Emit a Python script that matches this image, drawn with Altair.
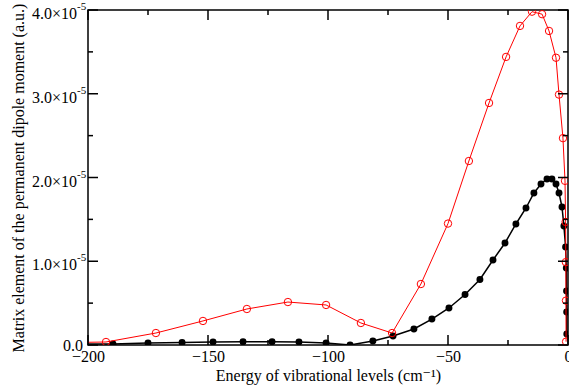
import altair as alt
import pandas as pd

# Red series (open circles): energy (cm^-1), matrix element (a.u.)
red_x = [-215, -192.5, -171.7, -152.1, -133.8, -116.7, -100.8, -86.3, -73.3, -61.3,
         -50.0, -41.3, -32.9, -25.8, -20.0, -15.0, -10.8, -7.9, -5.0, -3.75,
         -2.1, -1.25, -1.0, -0.9, -0.85, -0.8]
red_y = [0.25e-6, 0.36e-6, 1.43e-6, 2.87e-6, 4.30e-6, 5.13e-6, 4.78e-6, 2.63e-6, 1.43e-6, 7.28e-6,
         14.5e-6, 21.97e-6, 28.9e-6, 34.4e-6, 38.1e-6, 39.8e-6, 39.5e-6, 37.5e-6, 34.3e-6, 29.9e-6,
         24.7e-6, 19.6e-6, 14.7e-6, 9.9e-6, 5.3e-6, 0.4e-6]

# Black series (filled circles)
black_x = [-215, -189.6, -175.0, -160.8, -147.9, -135.4, -123.3, -112.1, -100.8, -90.8,
           -81.3, -72.9, -64.2, -56.7, -49.6, -42.9, -36.7, -31.25, -26.25, -21.7,
           -17.5, -14.2, -11.25, -8.75, -6.7, -5.0, -3.75, -2.5, -1.7, -1.0,
           -0.7, -0.6, -0.55, -0.5]
black_y = [0.1e-6, 0.12e-6, 0.24e-6, 0.30e-6, 0.36e-6, 0.39e-6, 0.39e-6, 0.36e-6, 0.24e-6, 0.0,
           0.48e-6, 1.07e-6, 1.91e-6, 3.10e-6, 4.42e-6, 6.03e-6, 7.82e-6, 10.15e-6, 12.18e-6, 14.45e-6,
           16.36e-6, 18.15e-6, 19.22e-6, 19.82e-6, 19.82e-6, 19.22e-6, 18.15e-6, 16.48e-6, 14.2e-6, 11.7e-6,
           9.19e-6, 6.45e-6, 3.94e-6, 1.31e-6]

x_major = [-200, -150, -100, -50, 0]
x_minor = [-175, -125, -75, -25]
y_major = [0, 1e-5, 2e-5, 3e-5, 4e-5]
y_minor = [0.5e-5, 1.5e-5, 2.5e-5, 3.5e-5]
y_sci_vals = [1e-5, 2e-5, 3e-5, 4e-5]
y_label_base = ["1.0×10", "2.0×10", "3.0×10", "4.0×10"]
y_label_exp = ["-5", "-5", "-5", "-5"]
y_zero_val = [0]
y_zero_label = ["0.0"]

W, H = 480, 335
FONT = "Liberation Serif, Times New Roman, DejaVu Serif, serif"

xscale = alt.Scale(domain=[-200, 0], nice=False, zero=False)
yscale = alt.Scale(domain=[0, 4e-5], nice=False, zero=False)

red = pd.DataFrame({"x": red_x, "y": red_y})
black = pd.DataFrame({"x": black_x, "y": black_y})
ylab = pd.DataFrame({"y": y_sci_vals, "base": y_label_base, "exp": y_label_exp})
yzero = pd.DataFrame({"y": y_zero_val, "lab": y_zero_label})

xaxis = alt.Axis(values=x_major, title="Energy of vibrational levels (cm⁻¹)", ticks=False,
                 domain=False, grid=False, labelFont=FONT, labelFontSize=16, labelColor="black",
                 labelPadding=3, titleFont=FONT, titleFontSize=16, titleFontWeight="normal",
                 titleColor="black", titlePadding=3, labelFlush=False, format="d")
yaxis = alt.Axis(values=y_major, title="Matrix element of the permanent dipole moment (a.u.)",
                 ticks=False, domain=False, grid=False, labels=False,
                 titleFont=FONT, titleFontSize=16,
                 titleFontWeight="normal", titleColor="black", titlePadding=62)

X = alt.X("x:Q", scale=xscale, axis=xaxis)
Y = alt.Y("y:Q", scale=yscale, axis=yaxis)

black_line = alt.Chart(black).mark_line(color="black", strokeWidth=1.5, clip=True).encode(x=X, y=Y)
black_pts = alt.Chart(black).mark_point(filled=True, color="black", size=48, opacity=1, clip=True).encode(x=X, y=Y)
red_line = alt.Chart(red).mark_line(color="#ff0000", strokeWidth=1, clip=True).encode(x=X, y=Y)
red_pts = alt.Chart(red).mark_point(filled=False, color="#ff0000", size=55, strokeWidth=1, opacity=1, clip=True).encode(x=X, y=Y)

ylab_base = alt.Chart(ylab).mark_text(font=FONT, fontSize=16, color="black", align="right",
                                      baseline="middle", dy=4).encode(
    y=Y, x=alt.value(-11), text="base:N")
ylab_exp = alt.Chart(ylab).mark_text(font=FONT, fontSize=11, color="black", align="left",
                                     baseline="middle", dy=-3).encode(
    y=Y, x=alt.value(-11), text="exp:N")
ylab_zero = alt.Chart(yzero).mark_text(font=FONT, fontSize=16, color="black", align="right",
                                       baseline="middle", dy=1).encode(
    y=Y, x=alt.value(-5), text="lab:N")

def xticks(vals, length):
    d = pd.DataFrame({"x": vals})
    base = alt.Chart(d)
    bot = base.mark_rule(color="black", strokeWidth=1.5).encode(
        x=X, y=alt.value(H), y2=alt.value(H - length))
    top = base.mark_rule(color="black", strokeWidth=1.5).encode(
        x=X, y=alt.value(0), y2=alt.value(length))
    return [bot, top]

def yticks(vals, length):
    d = pd.DataFrame({"y": vals})
    base = alt.Chart(d)
    left = base.mark_rule(color="black", strokeWidth=1.5).encode(
        y=Y, x=alt.value(0), x2=alt.value(length))
    right = base.mark_rule(color="black", strokeWidth=1.5).encode(
        y=Y, x=alt.value(W), x2=alt.value(W - length))
    return [left, right]

tick_layers = xticks(x_major, 10) + xticks(x_minor, 5) + yticks(y_major, 10) + yticks(y_minor, 5)

chart = alt.layer(black_line, black_pts, red_line, red_pts, ylab_base, ylab_exp, ylab_zero,
                  *tick_layers).properties(
    width=W, height=H,
    autosize=alt.AutoSizeParams(type="none"),
    padding={"left": 88, "top": 10, "right": 1, "bottom": 47},
    background="white",
).configure_view(stroke="black", strokeWidth=1.5)

chart.save("out.html", embed_options={"renderer": "svg", "actions": False})
